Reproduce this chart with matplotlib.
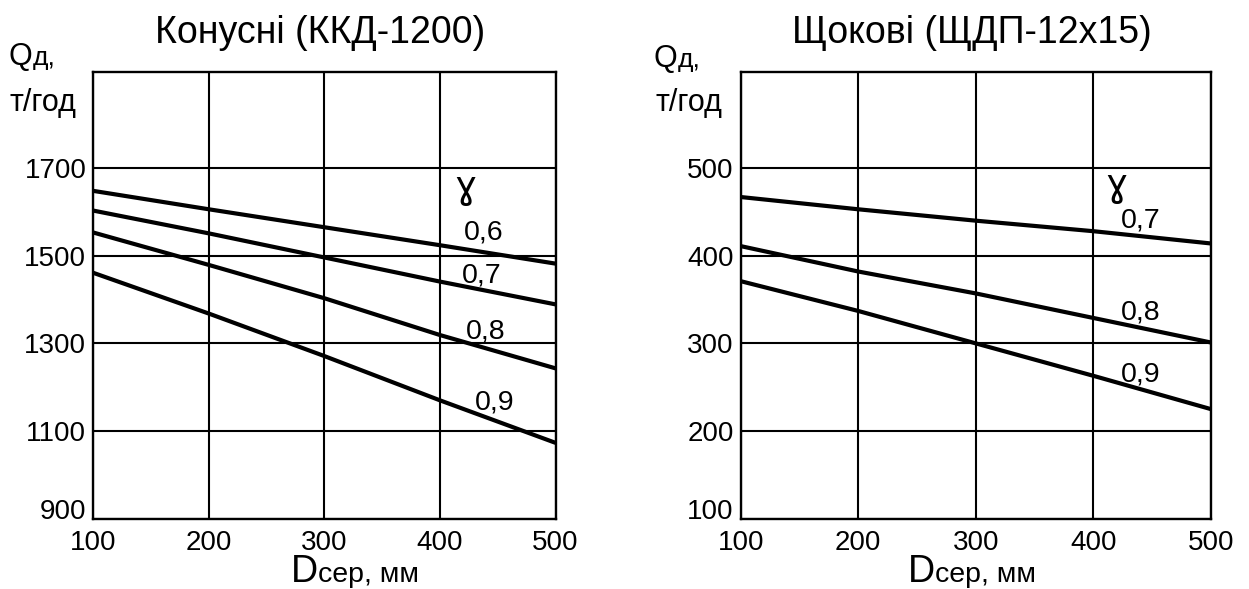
import numpy as np
import matplotlib
matplotlib.use("Agg")
import matplotlib.pyplot as plt

plt.rcParams['font.family'] = ['Liberation Sans', 'DejaVu Sans']

# середній розмір куска, мм
d_mm = [100, 200, 300, 400, 500]

# конусна дробарка ККД-1200, т/год
cone_gamma = ['0,6', '0,7', '0,8', '0,9']
cone_q_06 = [1648, 1606, 1565, 1524, 1482]
cone_q_07 = [1603, 1551, 1496, 1441, 1389]
cone_q_08 = [1553, 1479, 1403, 1319, 1243]
cone_q_09 = [1461, 1368, 1271, 1170, 1073]
cone_yticks = [900, 1100, 1300, 1500, 1700]

# щокова дробарка ЩДП-12х15, т/год
jaw_gamma = ['0,7', '0,8', '0,9']
jaw_q_07 = [467, 453, 440, 428, 414]
jaw_q_08 = [411, 382, 357, 329, 301]
jaw_q_09 = [371, 337, 300, 263, 225]
jaw_yticks = [100, 200, 300, 400, 500]

xticks = [100, 200, 300, 400, 500]

W, H = 1249, 589
fig = plt.figure(figsize=(W / 100, H / 100), dpi=100)


def px(x, y):
    return x / W, 1 - y / H


def setup(ax, ylim, yticks):
    ax.set_xlim(100, 500)
    ax.set_ylim(*ylim)
    ax.set_xticks(xticks)
    ax.set_yticks(yticks)
    ax.grid(True, color='black', linewidth=1.5)
    ax.set_axisbelow(True)
    for s in ax.spines.values():
        s.set_linewidth(1.7)
    ax.tick_params(length=0, labelsize=20, pad=5)
    ax.tick_params(axis='x', pad=8)
    ax.get_yticklabels()[0].set_va('baseline')


ax1 = fig.add_axes([0.0747, 0.1194, 0.3701, 0.7589])
setup(ax1, (900, 1920), cone_yticks)
for q in (cone_q_06, cone_q_07, cone_q_08, cone_q_09):
    ax1.plot(d_mm, q, color='black', linewidth=3.0, solid_capstyle='butt')
ax1.text(422, 1655, 'ɣ', fontsize=27, ha='center', va='center', family='DejaVu Sans')
for lab, (x, y) in zip(cone_gamma, [(438, 1554), (436, 1456), (439.5, 1326), (447.5, 1164)]):
    ax1.text(x, y, lab, fontsize=20.5, ha='center', va='center')

ax2 = fig.add_axes([0.5930, 0.1194, 0.3765, 0.7589])
setup(ax2, (100, 610), jaw_yticks)
for q in (jaw_q_07, jaw_q_08, jaw_q_09):
    ax2.plot(d_mm, q, color='black', linewidth=3.0, solid_capstyle='butt')
ax2.text(420, 480, 'ɣ', fontsize=27, ha='center', va='center', family='DejaVu Sans')
for lab, (x, y) in zip(jaw_gamma, [(440.5, 440), (440.5, 335), (440.5, 265)]):
    ax2.text(x, y, lab, fontsize=20.5, ha='center', va='center')

# заголовки
fig.text(*px(320, 33), 'Конусні (ККД-1200)', fontsize=27, ha='center', va='center')
fig.text(*px(972, 33), 'Щокові (ЩДП-12х15)', fontsize=27, ha='center', va='center')

# підписи осей
for qx, qy, tx in [(10, 65, 10), (655, 67, 655)]:
    fig.text(*px(qx + 22, qy), 'Q', fontsize=22, ha='right', va='baseline')
    fig.text(*px(qx + 23, qy), 'д,', fontsize=19, ha='left', va='baseline')
    fig.text(*px(tx, 111), 'т/год', fontsize=22, ha='left', va='baseline')

for dx in (318, 935):
    fig.text(*px(dx, 582), 'D', fontsize=27, ha='right', va='baseline')
    fig.text(*px(dx, 582), 'сер, мм', fontsize=20.5, ha='left', va='baseline')

fig.savefig('out.png', dpi=100)
